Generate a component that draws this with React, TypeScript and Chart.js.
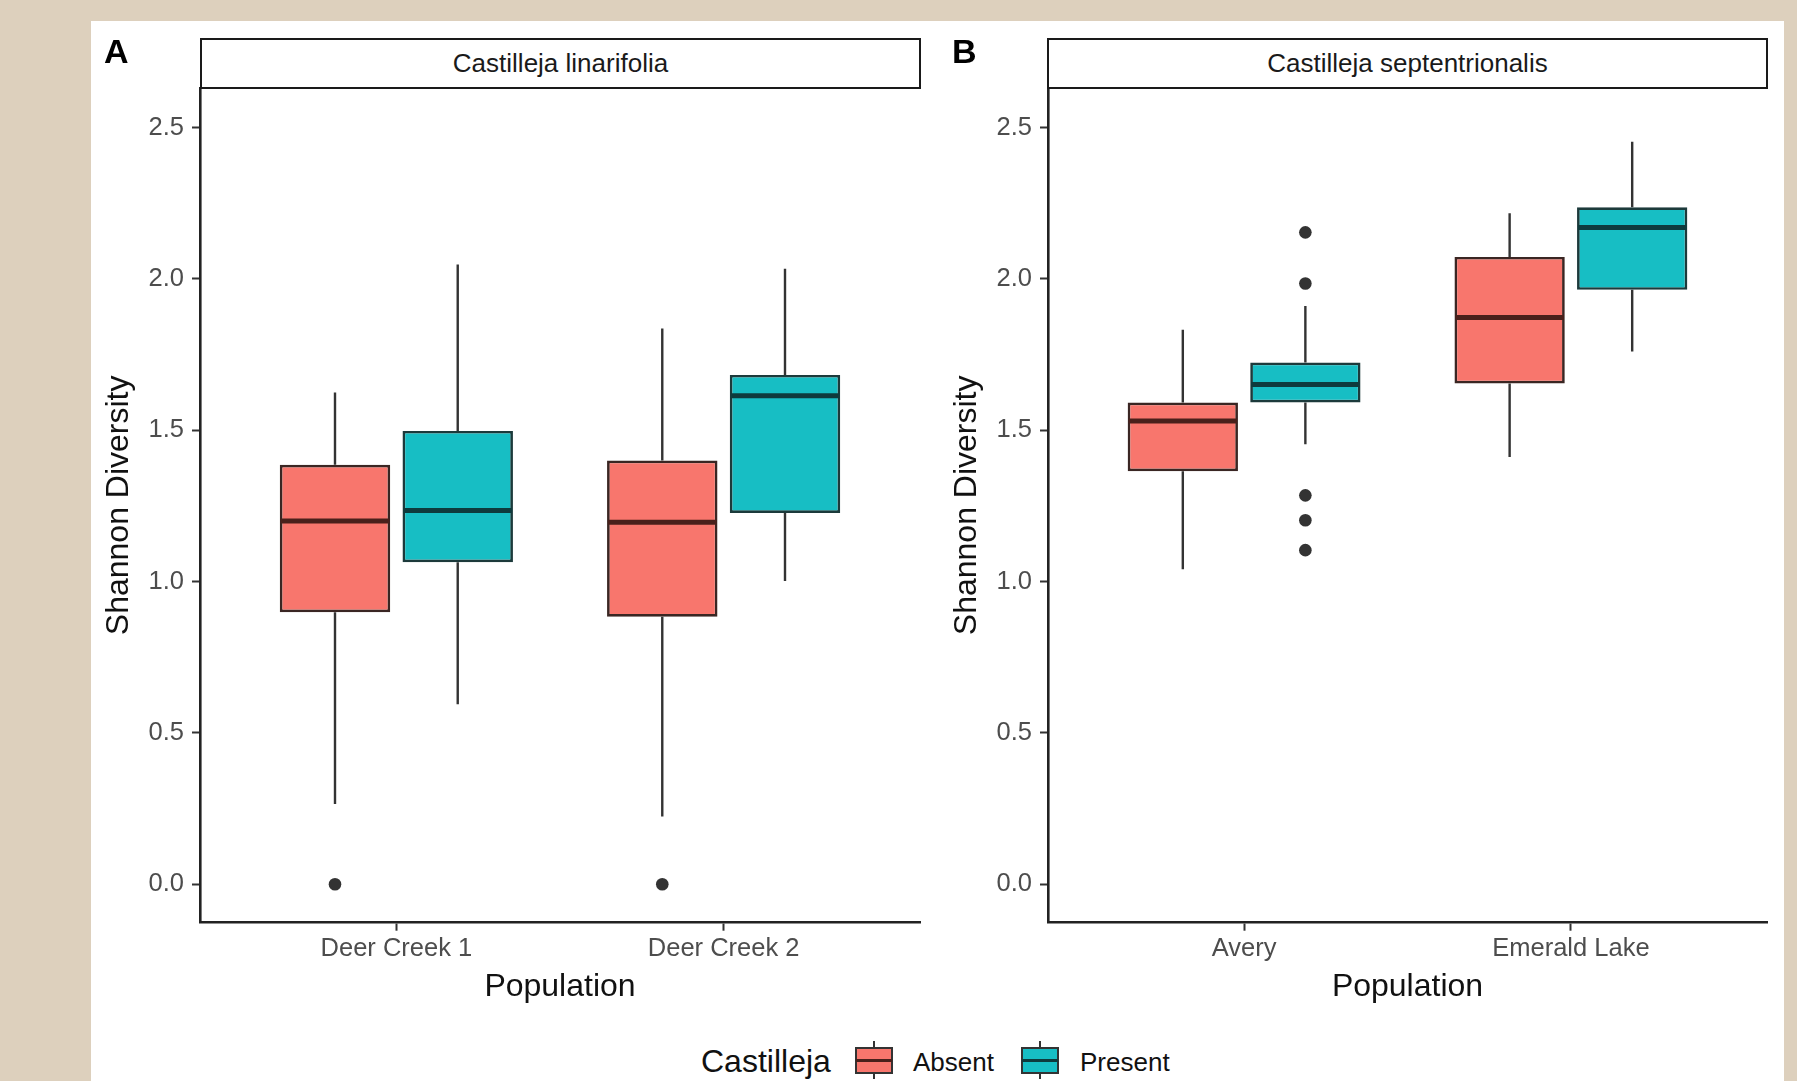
import React, { useEffect, useRef } from 'react';
import { Chart, registerables } from 'chart.js';

Chart.register(...registerables);

const FONT = '"Liberation Sans", Arial, Helvetica, sans-serif';

// ---- shared settings ----
const GROUPS = ['Absent', 'Present'];
const FILLS = ['#F8766D', '#17BEC4'];
const OUTLINES = ['#3a2623', '#1c3a3b'];
const MEDIANS = ['#4a201b', '#0e3b3d'];
const Y_TICKS = [0, 0.5, 1.0, 1.5, 2.0, 2.5];
const Y_MIN = -0.127;
const Y_MAX = 2.631;
const Y_TITLE = 'Shannon Diversity';
const X_TITLE = 'Population';
const LEGEND_TITLE = 'Castilleja';

// ---- Panel A: Castilleja linarifolia ----
const A_TITLE = 'Castilleja linarifolia';
const A_CATS = ['Deer Creek 1', 'Deer Creek 2'];
const A_ABSENT_LOW = [0.265, 0.224];
const A_ABSENT_Q1 = [0.899, 0.884];
const A_ABSENT_MED = [1.2, 1.196];
const A_ABSENT_Q3 = [1.386, 1.4];
const A_ABSENT_HIGH = [1.625, 1.836];
const A_ABSENT_OUT = [[0.0], [0.0]];
const A_PRESENT_LOW = [0.595, 1.002];
const A_PRESENT_Q1 = [1.064, 1.227];
const A_PRESENT_MED = [1.235, 1.614];
const A_PRESENT_Q3 = [1.498, 1.683];
const A_PRESENT_HIGH = [2.048, 2.034];
const A_PRESENT_OUT: number[][] = [[], []];

// ---- Panel B: Castilleja septentrionalis ----
const B_TITLE = 'Castilleja septentrionalis';
const B_CATS = ['Avery', 'Emerald Lake'];
const B_ABSENT_LOW = [1.041, 1.412];
const B_ABSENT_Q1 = [1.365, 1.655];
const B_ABSENT_MED = [1.531, 1.873];
const B_ABSENT_Q3 = [1.592, 2.073];
const B_ABSENT_HIGH = [1.832, 2.217];
const B_ABSENT_OUT: number[][] = [[], []];
const B_PRESENT_LOW = [1.454, 1.76];
const B_PRESENT_Q1 = [1.592, 1.964];
const B_PRESENT_MED = [1.651, 2.17];
const B_PRESENT_Q3 = [1.724, 2.237];
const B_PRESENT_HIGH = [1.911, 2.453];
const B_PRESENT_OUT = [[2.154, 1.985, 1.285, 1.203, 1.104], []];

const CATEGORY_PCT = 0.75;
const BAR_PCT = 0.9;

type Series = { low: number[]; q1: number[]; med: number[]; q3: number[]; high: number[]; out: number[][] };

const boxParts = {
  id: 'boxParts',
  beforeDatasetsDraw(chart: any) {
    const ys = chart.scales.y;
    const ctx = chart.ctx;
    chart.data.datasets.forEach((ds: any, di: number) => {
      const meta = chart.getDatasetMeta(di);
      if (meta.type !== 'bar') return;
      meta.data.forEach((bar: any, i: number) => {
        ctx.save();
        ctx.strokeStyle = '#333333';
        ctx.lineWidth = 2.4;
        ctx.beginPath();
        ctx.moveTo(bar.x, ys.getPixelForValue(ds.whiskerHigh[i]));
        ctx.lineTo(bar.x, ys.getPixelForValue(ds.q3v[i]));
        ctx.moveTo(bar.x, ys.getPixelForValue(ds.q1v[i]));
        ctx.lineTo(bar.x, ys.getPixelForValue(ds.whiskerLow[i]));
        ctx.stroke();
        ctx.restore();
      });
    });
  },
  afterDatasetsDraw(chart: any) {
    const ys = chart.scales.y;
    const ctx = chart.ctx;
    chart.data.datasets.forEach((ds: any, di: number) => {
      const meta = chart.getDatasetMeta(di);
      if (meta.type !== 'bar') return;
      meta.data.forEach((bar: any, i: number) => {
        const y = ys.getPixelForValue(ds.medianV[i]);
        ctx.save();
        ctx.strokeStyle = ds.medianColor;
        ctx.lineWidth = 5;
        ctx.beginPath();
        ctx.moveTo(bar.x - bar.width / 2 + 1, y);
        ctx.lineTo(bar.x + bar.width / 2 - 1, y);
        ctx.stroke();
        ctx.restore();
      });
    });
  },
};

function Panel({ cats, series, left, width, padRight }: { cats: string[]; series: Series[]; left: number; width: number; padRight: number }) {
  const ref = useRef<HTMLCanvasElement>(null);
  useEffect(() => {
    if (!ref.current) return;
    const dodge = CATEGORY_PCT / 4;
    const datasets: any[] = [];
    series.forEach((s, g) => {
      datasets.push({
        type: 'bar',
        label: GROUPS[g],
        data: cats.map((_, i) => ({ x: i + 1, y: [s.q1[i], s.q3[i]] })),
        backgroundColor: FILLS[g],
        borderColor: OUTLINES[g],
        borderWidth: 2.7,
        borderSkipped: false,
        categoryPercentage: CATEGORY_PCT,
        barPercentage: BAR_PCT,
        whiskerLow: s.low,
        whiskerHigh: s.high,
        q1v: s.q1,
        q3v: s.q3,
        medianV: s.med,
        medianColor: MEDIANS[g],
      });
    });
    series.forEach((s, g) => {
      const pts: { x: number; y: number }[] = [];
      s.out.forEach((arr, i) => arr.forEach((v) => pts.push({ x: i + 1 + (g === 0 ? -dodge : dodge), y: v })));
      datasets.push({
        type: 'scatter',
        label: GROUPS[g] + ' outliers',
        data: pts,
        pointRadius: 6.3,
        pointBackgroundColor: '#333333',
        pointBorderWidth: 0,
        showLine: false,
      });
    });
    const tickFont = { family: FONT, size: 25.5 };
    const chart = new Chart(ref.current, {
      type: 'bar',
      data: { datasets },
      plugins: [boxParts],
      options: {
        responsive: false,
        animation: false,
        events: [],
        layout: { padding: { top: 48, left: 0, right: padRight, bottom: 0 } },
        plugins: { legend: { display: false }, tooltip: { enabled: false } },
        scales: {
          x: {
            type: 'linear',
            min: 0.4,
            max: cats.length + 0.6,
            offset: false,
            afterBuildTicks: (scale: any) => {
              scale.ticks = cats.map((_, i) => ({ value: i + 1 }));
            },
            afterFit: (scale: any) => {
              scale.height = 87.3;
            },
            ticks: {
              font: tickFont,
              color: '#4D4D4D',
              padding: 3,
              maxRotation: 0,
              autoSkip: false,
              callback: (v: any) => cats[Math.round(Number(v)) - 1] ?? '',
            },
            grid: { display: true, offset: false, drawOnChartArea: false, drawTicks: true, tickLength: 8, tickColor: '#333333', tickWidth: 2, color: '#333333' },
            border: { display: true, color: '#222222', width: 2.6 },
            title: { display: true, text: X_TITLE, font: { family: FONT, size: 32 }, color: '#111111', padding: { top: 0, bottom: 4 } },
          },
          y: {
            type: 'linear',
            min: Y_MIN,
            max: Y_MAX,
            afterBuildTicks: (scale: any) => {
              scale.ticks = Y_TICKS.map((v) => ({ value: v }));
            },
            afterFit: (scale: any) => {
              scale.width = 109;
            },
            ticks: {
              font: tickFont,
              color: '#4D4D4D',
              padding: 8,
              callback: (v: any) => Number(v).toFixed(1),
            },
            grid: { display: true, drawOnChartArea: false, drawTicks: true, tickLength: 8, tickColor: '#333333', tickWidth: 2, color: '#333333' },
            border: { display: true, color: '#222222', width: 2.6 },
            title: { display: true, text: Y_TITLE, font: { family: FONT, size: 32 }, color: '#111111', padding: { top: 9, bottom: 0 } },
          },
        },
      } as any,
    });
    return () => chart.destroy();
  }, []);
  return <canvas ref={ref} width={width} height={970} style={{ position: 'absolute', left, top: 40, width, height: 970 }} />;
}

function Strip({ left, text }: { left: number; text: string }) {
  return (
    <div
      style={{
        position: 'absolute',
        left,
        top: 38,
        width: 721,
        height: 51,
        boxSizing: 'border-box',
        border: '2.6px solid #1a1a1a',
        background: '#ffffff',
        fontFamily: FONT,
        fontSize: 26,
        color: '#1A1A1A',
        display: 'flex',
        alignItems: 'center',
        justifyContent: 'center',
      }}
    >
      {text}
    </div>
  );
}

function Key({ left, fill, median }: { left: number; fill: string; median: string }) {
  return (
    <div style={{ position: 'absolute', left, top: 1041, width: 38, height: 38 }}>
      <div style={{ position: 'absolute', left: 18, top: 0, width: 2, height: 38, background: '#333' }} />
      <div style={{ position: 'absolute', left: 0, top: 6, width: 38, height: 27, boxSizing: 'border-box', border: '2px solid #333', background: fill }} />
      <div style={{ position: 'absolute', left: 1, top: 18, width: 36, height: 3, background: median }} />
    </div>
  );
}

export default function App() {
  const aSeries: Series[] = [
    { low: A_ABSENT_LOW, q1: A_ABSENT_Q1, med: A_ABSENT_MED, q3: A_ABSENT_Q3, high: A_ABSENT_HIGH, out: A_ABSENT_OUT },
    { low: A_PRESENT_LOW, q1: A_PRESENT_Q1, med: A_PRESENT_MED, q3: A_PRESENT_Q3, high: A_PRESENT_HIGH, out: A_PRESENT_OUT },
  ];
  const bSeries: Series[] = [
    { low: B_ABSENT_LOW, q1: B_ABSENT_Q1, med: B_ABSENT_MED, q3: B_ABSENT_Q3, high: B_ABSENT_HIGH, out: B_ABSENT_OUT },
    { low: B_PRESENT_LOW, q1: B_PRESENT_Q1, med: B_PRESENT_MED, q3: B_PRESENT_Q3, high: B_PRESENT_HIGH, out: B_PRESENT_OUT },
  ];
  return (
    <div style={{ position: 'fixed', left: 0, top: 0, width: 1797, height: 1081, background: '#DDD0BD', overflow: 'hidden', fontFamily: FONT }}>
      <div style={{ position: 'absolute', left: 91, top: 21, width: 1693, height: 1060, background: '#ffffff' }} />
      <Panel cats={A_CATS} series={aSeries} left={91} width={848} padRight={19} />
      <Panel cats={B_CATS} series={bSeries} left={939} width={845} padRight={17} />
      <Strip left={200} text={A_TITLE} />
      <Strip left={1047} text={B_TITLE} />
      <div style={{ position: 'absolute', left: 104, top: 31, lineHeight: '40px', fontSize: 34, fontWeight: 'bold', color: '#000' }}>A</div>
      <div style={{ position: 'absolute', left: 952, top: 31, lineHeight: '40px', fontSize: 34, fontWeight: 'bold', color: '#000' }}>B</div>
      <div style={{ position: 'absolute', left: 701, top: 1041, lineHeight: '40px', fontSize: 32, color: '#111' }}>{LEGEND_TITLE}</div>
      <Key left={855} fill={FILLS[0]} median={MEDIANS[0]} />
      <div style={{ position: 'absolute', left: 913, top: 1042, lineHeight: '40px', fontSize: 26, color: '#111' }}>{GROUPS[0]}</div>
      <Key left={1021} fill={FILLS[1]} median={MEDIANS[1]} />
      <div style={{ position: 'absolute', left: 1080, top: 1042, lineHeight: '40px', fontSize: 26, color: '#111' }}>{GROUPS[1]}</div>
    </div>
  );
}
